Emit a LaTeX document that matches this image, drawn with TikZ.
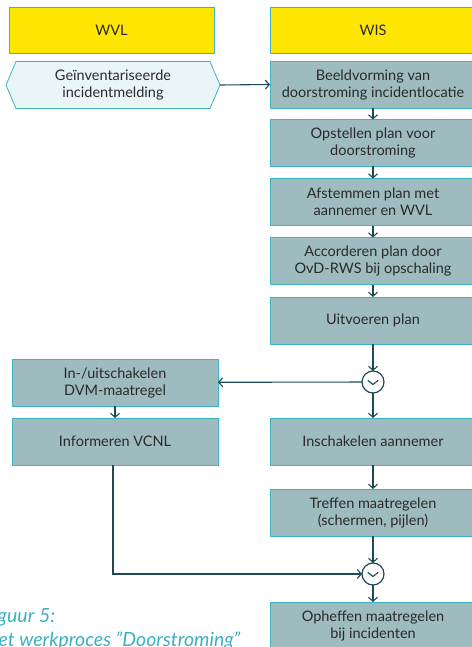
\documentclass[tikz,border=0pt]{standalone}
\usepackage{fontspec}
\setmainfont{Lato}
\usetikzlibrary{arrows.meta,calc}
\definecolor{headyellow}{HTML}{FFE600}
\definecolor{boxfill}{HTML}{9EBBC0}
\definecolor{boxline}{HTML}{3FB2C8}
\definecolor{hexfill}{HTML}{E9F5F6}
\definecolor{flowline}{HTML}{1D4A57}
\definecolor{captioncol}{HTML}{3AB0C5}
\definecolor{txt}{HTML}{2A2A2A}
\begin{document}
\begin{tikzpicture}[x=1pt,y=-1pt,
  every node/.style={inner sep=0pt, outer sep=0pt, font=\fontsize{14.5}{17}\selectfont, text=txt, align=center},
  header/.style={draw=boxline, fill=headyellow, line width=0.8pt, minimum width=205pt, minimum height=46pt},
  task/.style={draw=boxline, fill=boxfill, line width=0.8pt, minimum width=206pt, minimum height=47pt},
  gate/.style={circle, draw=flowline, fill=white, line width=1.2pt, minimum size=22pt},
  flow/.style={draw=flowline, line width=1.1pt, -{Straight Barb[length=4pt,width=9pt,line width=1.1pt]}},
  caption/.style={font=\fontsize{19.5}{22}\selectfont\itshape, text=captioncol, align=left, anchor=base west}
]
\useasboundingbox (0,0) rectangle (471,647);

% lane headers
\node[header] (wvl) at (111.5,30) {WVL};
\node[header, minimum width=206pt] (wis) at (373,30) {WIS};

% incoming event (hexagon)
\node[minimum width=214pt, minimum height=47pt] (hex) at (113,85) {Geïnventariseerde\\incidentmelding};
\draw[draw=boxline, fill=hexfill, line width=0.8pt]
  (hex.west) -- ($(hex.north west)+(10,0)$) -- ($(hex.north east)+(-10,0)$) -- (hex.east)
  -- ($(hex.south east)+(-10,0)$) -- ($(hex.south west)+(10,0)$) -- cycle;
\node at (hex) {Geïnventariseerde\\incidentmelding};

% right lane tasks
\node[task] (b1) at (373,84.5) {Beeldvorming van\\doorstroming incidentlocatie};
\node[task] (b2) at (373,143) {Opstellen plan voor\\doorstroming};
\node[task] (b3) at (373,202) {Afstemmen plan met\\aannemer en WVL};
\node[task] (b4) at (373,261) {Accorderen plan door\\OvD-RWS bij opschaling};
\node[task] (b5) at (373,320.5) {Uitvoeren plan};
\node[gate] (g1) at (373,382) {};
\node[task] (b6) at (373,441.5) {Inschakelen aannemer};
\node[task] (b7) at (373,512.5) {Treffen maatregelen\\(schermen, pijlen)};
\node[gate] (g2) at (373,574) {};
\node[task] (b8) at (373,625.5) {Opheffen maatregelen\\bij incidenten};

% left lane tasks
\node[task] (l1) at (115,382.5) {In-/uitschakelen\\DVM-maatregel};
\node[task] (l2) at (115,441.5) {Informeren VCNL};

% chevrons inside the gateways
\foreach \g in {g1,g2}
  \draw[flowline, line width=1.1pt, line cap=round, line join=round]
    ($(\g)+(-5,-1.5)$) -- ($(\g)+(0,2.5)$) -- ($(\g)+(5,-1.5)$);

% connectors
\draw[flow] (hex.east) -- (b1.west);
\draw[flow] (b1) -- (b2);
\draw[flow] (b2) -- (b3);
\draw[flow] (b3) -- (b4);
\draw[flow] (b4) -- (b5);
\draw[flow] (b5) -- (g1);
\draw[flow] (g1) -- (l1);
\draw[flow] (g1) -- (b6);
\draw[flow] (l1) -- (l2);
\draw[flow] (b6) -- (b7);
\draw[flow] (b7) -- (g2);
\draw[flow] (l2.south -| 113,0) |- (g2.west);
\draw[flow] (g2) -- (b8);

% caption
\node[caption] (cap1) at (-17,622) {Figuur 5:};
\node[caption] (cap2) at (-15,646) {Het werkproces "Doorstroming"};
\end{tikzpicture}
\end{document}
